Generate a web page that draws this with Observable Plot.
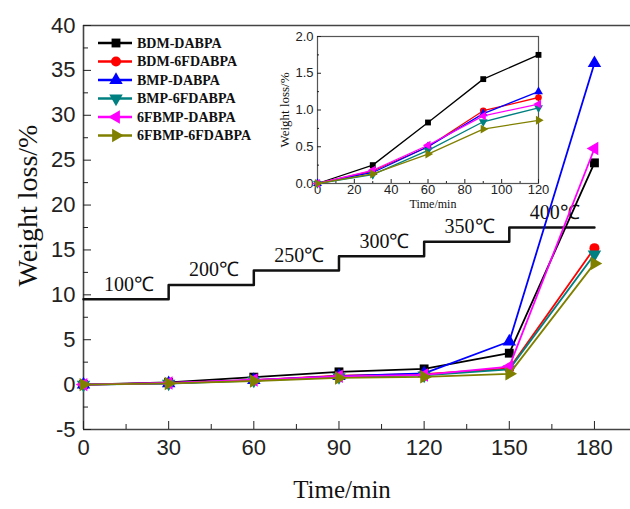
<!DOCTYPE html>
<html><head><meta charset="utf-8">
<script src="https://cdn.jsdelivr.net/npm/d3@7"></script>
<script src="https://cdn.jsdelivr.net/npm/@observablehq/plot@0.6"></script>
<style>
body{margin:0;background:#fff}
#wrap{position:relative;width:630px;height:509px}
#wrap>svg,#wrap>div{position:absolute}
</style></head><body><div id="wrap"></div>
<script>
// ---------- data ----------
const times = [0, 30, 60, 90, 120, 150, 180];
const seriesNames = ["BDM-DABPA", "BDM-6FDABPA", "BMP-DABPA", "BMP-6FDABPA", "6FBMP-DABPA", "6FBMP-6FDABPA"];
const seriesColors = ["#000000", "#ff0000", "#0000ff", "#008080", "#ff00ff", "#808000"];
const bdmDabpa     = [0, 0.25, 0.83, 1.42, 1.75, 3.5, 24.7];
const bdm6fdabpa   = [0, 0.17, 0.50, 0.99, 1.17, 1.8, 15.2];
const bmpDabpa     = [0, 0.15, 0.50, 0.95, 1.25, 4.8, 35.8];
const bmp6fdabpa   = [0, 0.12, 0.45, 0.84, 1.03, 1.7, 14.5];
const fbmpDabpa    = [0, 0.18, 0.52, 0.92, 1.08, 2.0, 26.3];
const fbmp6fdabpa  = [0, 0.13, 0.40, 0.74, 0.86, 1.2, 13.5];
const seriesValues = [bdmDabpa, bdm6fdabpa, bmpDabpa, bmp6fdabpa, fbmpDabpa, fbmp6fdabpa];

const insetTimes = [0, 30, 60, 90, 120];

const tempLabels = ["100℃", "200℃", "250℃", "300℃", "350℃", "400℃"];
const tempTimes  = [0, 30, 60, 90, 120, 150, 180];
const tempLevels = [9.5, 11.1, 12.7, 14.3, 15.9, 17.5, 17.5];

const mainYTicks = [-5, 0, 5, 10, 15, 20, 25, 30, 35, 40];
const mainXTicks = [0, 30, 60, 90, 120, 150, 180];
const insetXTicks = [0, 20, 40, 60, 80, 100, 120];
const insetYTicks = [0, 0.5, 1.0, 1.5, 2.0];

// ---------- symbols ----------
const s3 = Math.sqrt(3);
const triDown = {draw(c, size){ const y = -Math.sqrt(size/(s3*3)); c.moveTo(0,-y*2); c.lineTo(-s3*y, y); c.lineTo(s3*y, y); c.closePath(); }};
const triLeft = {draw(c, size){ const y = -Math.sqrt(size/(s3*3)); c.moveTo(y*2,0); c.lineTo(-y,-s3*y); c.lineTo(-y, s3*y); c.closePath(); }};
const triRight = {draw(c, size){ const y = -Math.sqrt(size/(s3*3)); c.moveTo(-y*2,0); c.lineTo(y,-s3*y); c.lineTo(y, s3*y); c.closePath(); }};
const symbols = [d3.symbolSquare, d3.symbolCircle, d3.symbolTriangle, triDown, triLeft, triRight];

const rows = [];
seriesNames.forEach((name, i) => times.forEach((t, j) => rows.push({series: name, idx: i, time: t, value: seriesValues[i][j]})));
const insetRows = rows.filter(d => insetTimes.includes(d.time));

const tempPts = tempTimes.map((t, i) => ({time: t, level: tempLevels[i]}));
const tempText = tempLabels.map((lab, i) => ({label: lab, time: (tempTimes[i] + tempTimes[i+1]) / 2 + 1, level: tempLevels[i]}));

const sans = "'Liberation Sans', Arial, sans-serif";
const serif = "'Liberation Serif', 'Times New Roman', serif";

function seriesMarks(data, r, sw) {
  const m = [];
  seriesNames.forEach((name, i) => {
    const d = data.filter(r => r.idx === i);
    m.push(Plot.line(d, {x: "time", y: "value", stroke: seriesColors[i], strokeWidth: sw}));
    m.push(Plot.dot(d, {x: "time", y: "value", fill: seriesColors[i], stroke: "none", symbol: () => symbols[i], r}));
  });
  return m;
}

// ---------- main chart ----------
const main = Plot.plot({
  width: 630, height: 509,
  marginLeft: 83, marginRight: 0, marginTop: 25, marginBottom: 80,
  style: {fontFamily: sans, background: "transparent", color: "#222"},
  x: {domain: [0, 192.7]},
  y: {domain: [-5, 40]},
  symbol: {type: "identity"},
  marks: [
    Plot.ruleY([-5, 40], {stroke: "#444", strokeWidth: 1.6}),
    Plot.ruleX([0], {stroke: "#444", strokeWidth: 1.6}),
    Plot.axisY({ticks: mainYTicks, tickSize: -8, tickPadding: 16, fontSize: 22, label: null, tickFormat: d => String(d)}),
    Plot.axisY({ticks: d3.range(-2.5, 40, 5), tickSize: -5, tickFormat: () => "", label: null}),
    Plot.axisX({ticks: mainXTicks, tickSize: -8, tickPadding: 18, fontSize: 22, label: null, tickFormat: d => String(d)}),
    Plot.axisX({ticks: d3.range(15, 180, 30), tickSize: -5, tickFormat: () => "", label: null}),
    Plot.line(tempPts, {x: "time", y: "level", curve: "step-after", stroke: "#111", strokeWidth: 2.5}),
    Plot.text(tempText, {x: "time", y: "level", text: "label", dy: -15, fontSize: 20, fontFamily: serif, fill: "#111"}),
    ...seriesMarks(rows, 5, 1.8),
    Plot.text(["Weight loss/%"], {frameAnchor: "left", textAnchor: "middle", dx: -55, dy: -22, rotate: -90, fontSize: 28, fontFamily: serif, fill: "#111"}),
    Plot.text(["Time/min"], {frameAnchor: "bottom", dx: -15, dy: 68, fontSize: 25, fontFamily: serif, fill: "#111"})
  ]
});
main.style.left = "0px"; main.style.top = "0px";
document.getElementById("wrap").appendChild(main);

// legend
const lg = d3.select(main).append("g").attr("class", "legend").attr("text-anchor", "start");
seriesNames.forEach((name, i) => {
  const y = 43 + i * 18.5;
  const g = lg.append("g");
  g.append("line").attr("x1", 98).attr("x2", 132).attr("y1", y).attr("y2", y).attr("stroke", seriesColors[i]).attr("stroke-width", 2.5);
  g.append("path").attr("transform", `translate(116,${y})`).attr("d", d3.symbol(symbols[i], Math.PI * 25)()).attr("fill", seriesColors[i]);
  g.append("text").attr("x", 137).attr("y", y).attr("dy", "0.35em").attr("text-anchor", "start").attr("font-family", serif).attr("font-weight", "bold").attr("font-size", 14).attr("fill", "#111").text(name);
});

// ---------- inset ----------
const inset = Plot.plot({
  width: 300, height: 195,
  marginLeft: 67, marginRight: 12, marginTop: 10, marginBottom: 38,
  style: {fontFamily: sans, background: "transparent", color: "#222"},
  x: {domain: [0, 120]},
  y: {domain: [0, 2]},
  marks: [
    Plot.frame({stroke: "#555", strokeWidth: 1.2}),
    Plot.axisY({ticks: insetYTicks, tickSize: -4, tickPadding: 8, fontSize: 13, label: null, tickFormat: d3.format(".1f")}),
    Plot.axisY({ticks: d3.range(0.25, 2, 0.5), tickSize: -2, tickFormat: () => "", label: null}),
    Plot.axisX({ticks: insetXTicks, tickSize: -4, tickPadding: 5, fontSize: 13, label: null, tickFormat: d => String(d)}),
    Plot.axisX({ticks: d3.range(10, 120, 20), tickSize: -2, tickFormat: () => "", label: null}),
    ...seriesMarks(insetRows, 3.3, 1.3),
    Plot.text(["Weight loss/%"], {frameAnchor: "left", textAnchor: "middle", dx: -33, rotate: -90, fontSize: 13, fontFamily: serif, fill: "#111"}),
    Plot.text(["Time/min"], {frameAnchor: "bottom", dx: 5, dy: 24, fontSize: 12, fontFamily: serif, fill: "#111"})
  ]
});
inset.style.left = "250px"; inset.style.top = "26px";
document.getElementById("wrap").appendChild(inset);
</script>
</body></html>
